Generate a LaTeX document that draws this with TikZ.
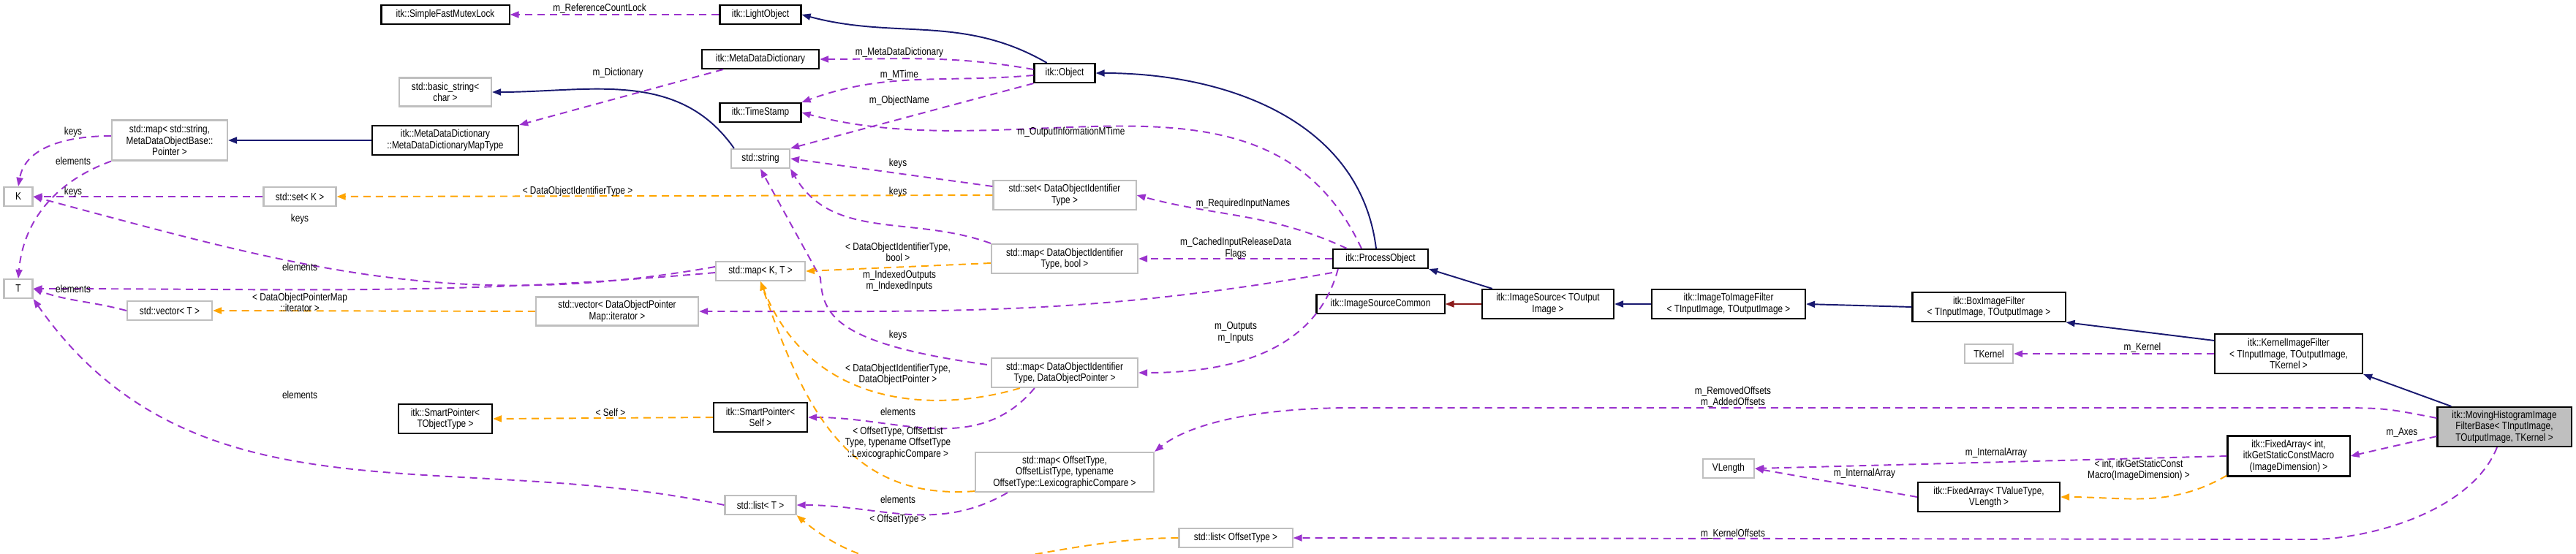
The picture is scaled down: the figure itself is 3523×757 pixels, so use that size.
\documentclass[tikz,border=0pt]{standalone}
\usepackage{fontspec}
\setmainfont{Liberation Sans}[FakeStretch=0.82]
\usetikzlibrary{arrows.meta}
\definecolor{mem}{HTML}{9A32CD}
\definecolor{inh}{HTML}{191970}
\definecolor{tpl}{HTML}{FFA500}
\definecolor{priv}{HTML}{8B1A1A}
\definecolor{gb}{HTML}{BFBFBF}
\tikzset{
  box/.style={draw=black, line width=0.6pt, fill=white, inner sep=0pt, align=center, font=\fontsize{4.1}{4.4}\selectfont},
  gbox/.style={box, draw=gb},
  tip/.style={-{Triangle[length=0.12cm,width=0.09cm]}},
  memb/.style={tip, draw=mem, line width=0.55pt, dash pattern=on 0.1cm off 0.07cm},
  tmpl/.style={tip, draw=tpl, line width=0.55pt, dash pattern=on 0.1cm off 0.07cm},
  inher/.style={tip, draw=inh, line width=0.55pt},
  prv/.style={tip, draw=priv, line width=0.55pt},
  lab/.style={inner sep=0pt, align=center, font=\fontsize{4.1}{4.4}\selectfont},
}
\begin{document}
\begin{tikzpicture}[x=0.01cm,y=-0.01cm]
\useasboundingbox (0,0) rectangle (3523,757);
% inheritance / members drawn first, nodes on top
\path
 (609,20) coordinate (c_sfml);
% nodes
\node[box, minimum width=1.75cm, minimum height=0.26cm] (sfml) at (609,20) {itk::SimpleFastMutexLock};
\node[gbox, minimum width=1.26cm, minimum height=0.39cm] (bstr) at (609,126) {std::basic\_string<\\char >};
\node[box, minimum width=2.0cm, minimum height=0.40cm] (mddmt) at (609,192) {itk::MetaDataDictionary\\::MetaDataDictionaryMapType};
\node[gbox, minimum width=1.58cm, minimum height=0.55cm] (mapstr) at (232,192) {std::map< std::string,\\MetaDataObjectBase::\\Pointer >};
\node[gbox, minimum width=0.39cm, minimum height=0.26cm] (K) at (25,269) {K};
\node[gbox, minimum width=0.99cm, minimum height=0.26cm] (setK) at (410,269) {std::set< K >};
\node[gbox, minimum width=0.39cm, minimum height=0.26cm] (T) at (25,395) {T};
\node[gbox, minimum width=1.16cm, minimum height=0.26cm] (vecT) at (232,425) {std::vector< T >};
\node[gbox, minimum width=2.22cm, minimum height=0.39cm] (vecdop) at (844,426) {std::vector< DataObjectPointer\\Map::iterator >};
\node[box, minimum width=1.28cm, minimum height=0.40cm] (spto) at (609,573) {itk::SmartPointer<\\TObjectType >};
\node[box, minimum width=1.11cm, minimum height=0.26cm] (light) at (1040,20) {itk::LightObject};
\node[box, minimum width=1.6cm, minimum height=0.26cm] (mdd) at (1040,81) {itk::MetaDataDictionary};
\node[box, minimum width=0.83cm, minimum height=0.26cm] (obj) at (1456,100) {itk::Object};
\node[box, minimum width=1.11cm, minimum height=0.26cm] (ts) at (1040,154) {itk::TimeStamp};
\node[gbox, minimum width=0.80cm, minimum height=0.26cm] (str) at (1040,217) {std::string};
\node[gbox, minimum width=1.95cm, minimum height=0.40cm] (setdoit) at (1456,267) {std::set< DataObjectIdentifier\\Type >};
\node[gbox, minimum width=1.22cm, minimum height=0.26cm] (mapKT) at (1040,371) {std::map< K, T >};
\node[gbox, minimum width=2.0cm, minimum height=0.40cm] (mapbool) at (1456,354) {std::map< DataObjectIdentifier\\Type, bool >};
\node[box, minimum width=1.30cm, minimum height=0.26cm] (po) at (1888,354) {itk::ProcessObject};
\node[box, minimum width=1.75cm, minimum height=0.26cm] (isc) at (1888,416) {itk::ImageSourceCommon};
\node[gbox, minimum width=2.0cm, minimum height=0.40cm] (mapdop) at (1456,510) {std::map< DataObjectIdentifier\\Type, DataObjectPointer >};
\node[box, minimum width=1.28cm, minimum height=0.40cm] (spself) at (1040,571) {itk::SmartPointer<\\Self >};
\node[gbox, minimum width=2.44cm, minimum height=0.54cm] (mapoff) at (1456,646) {std::map< OffsetType,\\OffsetListType, typename\\OffsetType::LexicographicCompare >};
\node[gbox, minimum width=0.97cm, minimum height=0.26cm] (listT) at (1040,691) {std::list< T >};
\node[gbox, minimum width=1.55cm, minimum height=0.26cm] (listoff) at (1690,736) {std::list< OffsetType >};
\node[box, minimum width=1.80cm, minimum height=0.40cm] (is) at (2117,416) {itk::ImageSource< TOutput\\Image >};
\node[box, minimum width=2.10cm, minimum height=0.40cm] (i2i) at (2364,416) {itk::ImageToImageFilter\\< TInputImage, TOutputImage >};
\node[box, minimum width=2.09cm, minimum height=0.40cm] (box) at (2720,420) {itk::BoxImageFilter\\< TInputImage, TOutputImage >};
\node[box, minimum width=2.02cm, minimum height=0.54cm] (kif) at (3130,484) {itk::KernelImageFilter\\< TInputImage, TOutputImage,\\TKernel >};
\node[gbox, minimum width=0.66cm, minimum height=0.26cm] (tk) at (2720,484) {TKernel};
\node[box, fill=gb, minimum width=1.83cm, minimum height=0.54cm] (mh) at (3425,584) {itk::MovingHistogramImage\\FilterBase< TInputImage,\\TOutputImage, TKernel >};
\node[box, minimum width=1.67cm, minimum height=0.55cm] (fai) at (3130,624) {itk::FixedArray< int,\\itkGetStaticConstMacro\\(ImageDimension) >};
\node[gbox, minimum width=0.70cm, minimum height=0.26cm] (vl) at (2364,641) {VLength};
\node[box, minimum width=1.94cm, minimum height=0.40cm] (fatv) at (2720,680) {itk::FixedArray< TValueType,\\VLength >};
% inheritance
\draw[inher] (obj.150) to[out=150,in=-15] (light.east);
\draw[inher] (po.north) ++(-6,0) to[out=97,in=0] (obj.east);
\draw[inher] (is.north west) ++(15,0) -- (po.south east);
\draw[prv] (is.west) -- (isc.east);
\draw[inher] (i2i.west) -- (is.east);
\draw[inher] (box.west) -- (i2i.east);
\draw[inher] (kif.north west) ++(0,10) -- (box.south east);
\draw[inher] (mh.north west) ++(20,0) -- (kif.south east);
\draw[inher] (str.north west) ++(5,0) to[out=125,in=0] (bstr.east);
\draw[inher] (mddmt.west) -- (mapstr.east);
% members
\draw[memb] (light.west) -- (sfml.east);
\draw[memb] (obj.west) ++(0,-5) to[out=170,in=0] (mdd.east);
\draw[memb] (obj.west) ++(0,3) to[out=185,in=20] (ts.north east);
\draw[memb] (obj.south west) -- (str.north east);
\draw[memb] (po.north) ++(-26,0) to[out=115,in=-15] (ts.east);
\draw[memb] (po.north west) ++(20,0) to[out=155,in=-15] (setdoit.east);
\draw[memb] (po.west) -- (mapbool.east);
\draw[memb] (po.south west) ++(0,5) to[out=190,in=0] (vecdop.east);
\draw[memb] (po.south west) ++(8,0) to[out=-105,in=0] (mapdop.east);
\draw[memb] (kif.west) -- (tk.east);
\draw[memb] (mh.west) ++(0,-12) .. controls (3260,558) .. (3180,558) -- (1850,558) .. controls (1700,558) and (1620,585) .. (mapoff.north east);
\draw[memb] (mh.west) ++(0,13) -- (fai.east);
\draw[memb] (mh.south) ++(-10,0) .. controls (3380,700) and (3240,738) .. (3160,738) -- (listoff.east);
\draw[memb] (fai.west) -- (vl.east);
\draw[memb] (fatv.west) -- (vl.east);
\draw[memb] (mdd.south west) ++(30,0) -- (mddmt.north east);
\draw[memb] (mapstr.west) ++(0,-6) to[out=180,in=80] (K.north);
\draw[memb] (mapstr.south west) to[out=200,in=85] (T.north);
\draw[memb] (setK.west) -- (K.east);
\draw[memb] (setdoit.west) ++(0,-12) -- (str.east);
\draw[memb] (mapKT.west) ++(0,-6) to[out=190,in=-15] (K.east);
\draw[memb] (mapKT.west) ++(0,2) to[out=185,in=0] (T.east);
\draw[memb] (mapbool.north west) to[out=160,in=-60] (str.south east);
\draw[memb] (vecT.west) to[out=165,in=-20] (T.east);
\draw[memb] (mapdop.north west) ++(-5,10) .. controls (1140,470) and (1125,430) .. (1122,380) -- (str.south);
\draw[memb] (mapdop.south west) ++(60,0) to[out=230,in=0] (spself.east);
\draw[memb] (mapoff.south west) ++(45,0) to[out=210,in=0] (listT.east);
\draw[memb] (listT.west) to[out=168,in=-55] (T.south east);
% templates
\draw[tmpl] (setdoit.west) -- (setK.east);
\draw[tmpl] (mapbool.west) ++(0,6) -- (mapKT.east);
\draw[tmpl] (vecdop.west) -- (vecT.east);
\draw[tmpl] (mapdop.south west) ++(40,0) .. controls (1280,565) and (1110,560) .. (mapKT.south);
\draw[tmpl] (mapoff.south west) ++(0,-2) .. controls (1160,685) and (1100,560) .. (mapKT.south);
\draw[tmpl] (spself.west) -- (spto.east);
\draw[tmpl] (listoff.west) to[out=180,in=-40] (listT.south east);
\draw[tmpl] (fai.south west) ++(0,-2) to[out=210,in=0] (fatv.east);
% labels
\node[lab] at (820,12) {m\_ReferenceCountLock};
\node[lab] at (1230,72) {m\_MetaDataDictionary};
\node[lab] at (1230,103) {m\_MTime};
\node[lab] at (1230,138) {m\_ObjectName};
\node[lab] at (1465,181) {m\_OutputInformationMTime};
\node[lab] at (1700,279) {m\_RequiredInputNames};
\node[lab] at (1690,340) {m\_CachedInputReleaseData\\Flags};
\node[lab] at (1230,384) {m\_IndexedOutputs\\m\_IndexedInputs};
\node[lab] at (1690,455) {m\_Outputs\\m\_Inputs};
\node[lab] at (2930,476) {m\_Kernel};
\node[lab] at (2370,543) {m\_RemovedOffsets\\m\_AddedOffsets};
\node[lab] at (3285,592) {m\_Axes};
\node[lab] at (2370,731) {m\_KernelOffsets};
\node[lab] at (2730,620) {m\_InternalArray};
\node[lab] at (2550,648) {m\_InternalArray};
\node[lab] at (2925,643) {< int, itkGetStaticConst\\Macro(ImageDimension) >};
\node[lab] at (845,100) {m\_Dictionary};
\node[lab] at (100,181) {keys};
\node[lab] at (100,220) {elements};
\node[lab] at (100,263) {keys};
\node[lab] at (790,262) {< DataObjectIdentifierType >};
\node[lab] at (1228,224) {keys};
\node[lab] at (1228,263) {keys};
\node[lab] at (410,300) {keys};
\node[lab] at (410,365) {elements};
\node[lab] at (1228,345) {< DataObjectIdentifierType,\\bool >};
\node[lab] at (100,395) {elements};
\node[lab] at (410,414) {< DataObjectPointerMap\\::iterator >};
\node[lab] at (1228,459) {keys};
\node[lab] at (1228,512) {< DataObjectIdentifierType,\\DataObjectPointer >};
\node[lab] at (1228,563) {elements};
\node[lab] at (835,564) {< Self >};
\node[lab] at (1228,606) {< OffsetType, OffsetList\\Type, typename OffsetType\\::LexicographicCompare >};
\node[lab] at (1228,683) {elements};
\node[lab] at (410,540) {elements};
\node[lab] at (1228,711) {< OffsetType >};
\end{tikzpicture}
\end{document}
